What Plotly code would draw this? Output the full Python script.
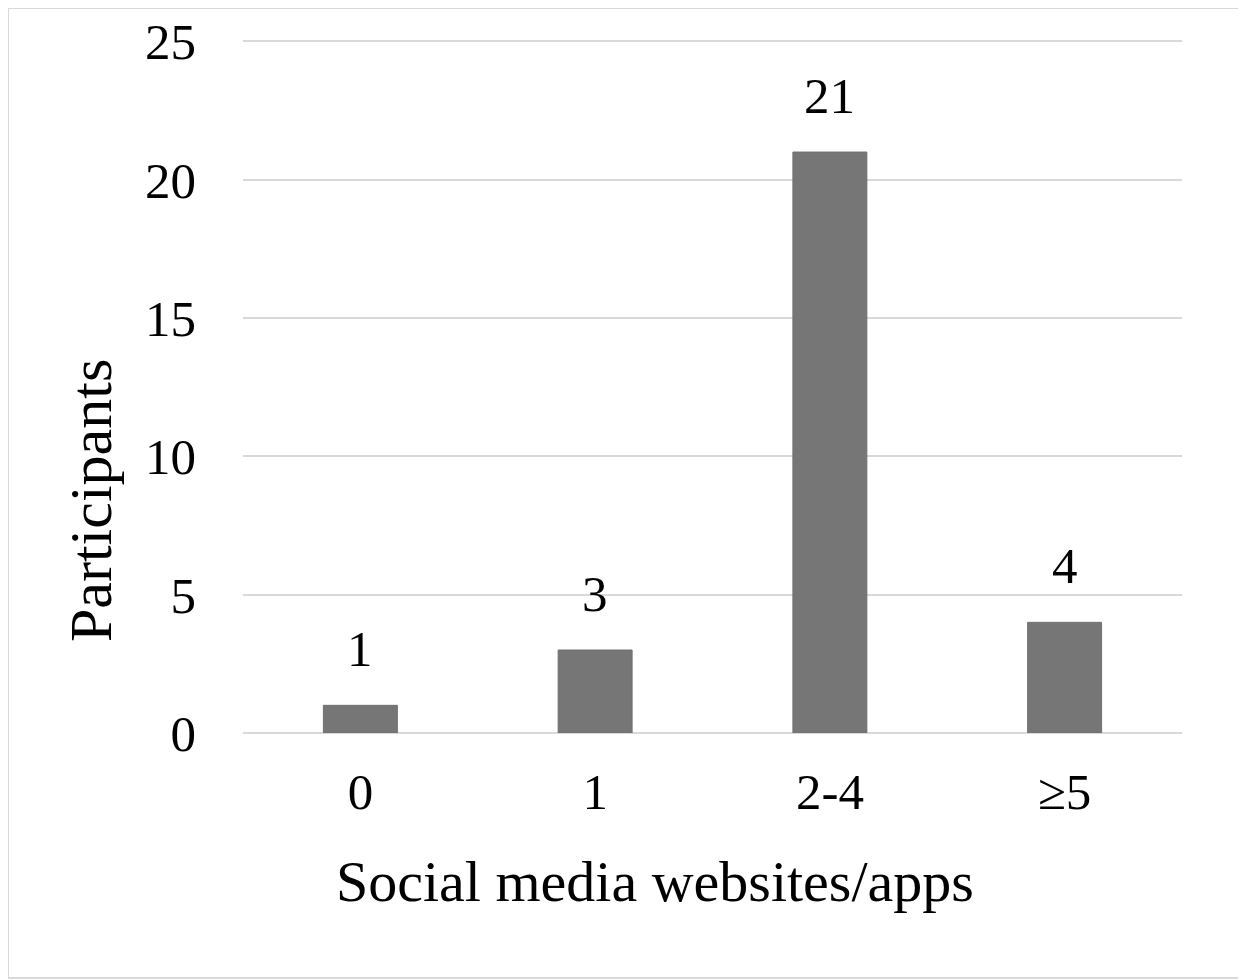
import plotly.graph_objects as go

categories = ["0", "1", "2-4", "≥5"]
participants = [1, 3, 21, 4]
y_ticks = [0, 5, 10, 15, 20, 25]
x_title = "Social media websites/apps"
y_title = "Participants"

FONT = "Liberation Serif, Times New Roman, serif"

fig = go.Figure(
    go.Bar(
        x=categories,
        y=participants,
        marker=dict(color="#767676", line=dict(color="#707070", width=1)),
        width=0.315,
        hoverinfo="x+y",
    )
)

for c, v in zip(categories, participants):
    fig.add_annotation(
        x=c, y=v, xref="x", yref="y",
        text=str(v), showarrow=False,
        yanchor="bottom", yshift=26,
        font=dict(family=FONT, size=51, color="#000000"),
    )

fig.update_layout(
    width=1246,
    height=980,
    margin=dict(l=235, r=72, t=32, b=255),
    paper_bgcolor="white",
    plot_bgcolor="white",
    font=dict(family=FONT, size=51, color="#000000"),
    showlegend=False,
)

fig.update_yaxes(
    range=[0, 25.05],
    tickvals=y_ticks,
    ticktext=[str(v) for v in y_ticks],
    showgrid=True,
    gridcolor="#d9d9d9",
    gridwidth=2,
    zeroline=True,
    zerolinecolor="#d9d9d9",
    zerolinewidth=2,
    showline=False,
    ticks="",
    ticklabelstandoff=46,
    automargin=False,
)

fig.update_xaxes(
    showgrid=False,
    showline=False,
    ticks="",
    ticklabelstandoff=24,
    automargin=False,
)

fig.add_annotation(
    xref="paper", yref="paper", x=0.4388, y=-0.2136,
    xanchor="center", yanchor="middle",
    text=x_title, showarrow=False,
    font=dict(family=FONT, size=58, color="#000000"),
)
fig.add_annotation(
    xref="paper", yref="paper", x=-0.1620, y=0.336,
    xanchor="center", yanchor="middle", textangle=-90,
    text=y_title, showarrow=False,
    font=dict(family=FONT, size=60, color="#000000"),
)

fig.add_shape(
    type="rect",
    xref="paper", yref="paper",
    x0=(0 - 235) / 939, x1=(1232 - 235) / 939,
    y0=(725 - 970) / 693, y1=(725 - 0) / 693,
    line=dict(color="#d9d9d9", width=2),
    fillcolor="rgba(0,0,0,0)",
    layer="below",
)

fig.write_html("out.html")
